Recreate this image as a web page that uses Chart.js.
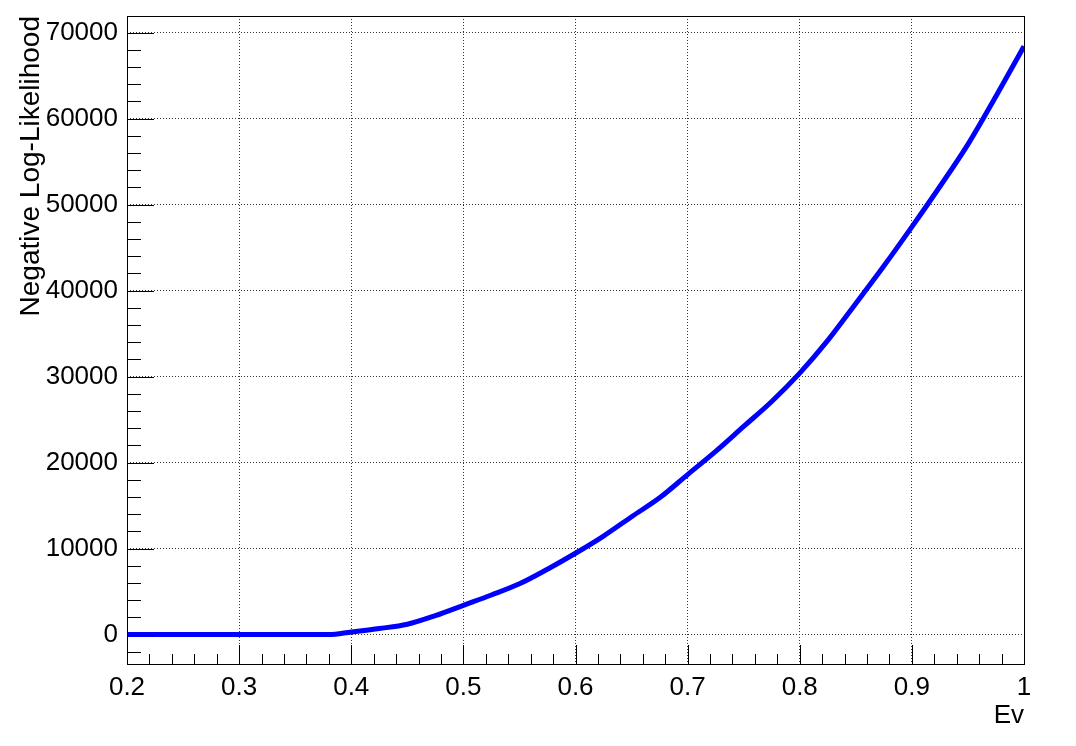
<!DOCTYPE html>
<html>
<head>
<meta charset="utf-8">
<script src="https://cdn.jsdelivr.net/npm/chart.js@4.4.1/dist/chart.umd.min.js"></script>
<style>
  body { margin: 0; background: #fff; }
</style>
</head>
<body>
<canvas id="nllChart" width="1076" height="746"></canvas>
<script>
// values
var ev = [0.2, 0.3, 0.38, 0.4, 0.425, 0.45, 0.475, 0.5, 0.525, 0.55,
          0.575, 0.6, 0.625, 0.65, 0.675, 0.7, 0.725, 0.75, 0.775, 0.8,
          0.825, 0.85, 0.875, 0.9, 0.925, 0.95, 0.975, 1.0];
var nll = [0, 0, 0, 300, 700, 1200, 2200, 3400, 4600, 5900,
           7600, 9450, 11450, 13700, 15900, 18600, 21300, 24200, 27100, 30400,
           34200, 38500, 42850, 47400, 52100, 57000, 62600, 68400];

var yTicks = [0, 10000, 20000, 30000, 40000, 50000, 60000, 70000];

var xMin = 0.2, xMax = 1.0;
var yMin = -3425, yMax = 71925;

var points = ev.map(function (x, i) { return { x: x, y: nll[i] }; });

var fontFam = "'Liberation Sans', Arial, Helvetica, sans-serif";

// ROOT style frame + ticks drawn inside the frame
var rootFrame = {
  id: "rootFrame",
  afterDraw: function (chart) {
    var ctx = chart.ctx, a = chart.chartArea;
    var xs = chart.scales.x, ys = chart.scales.y;
    ctx.save();
    ctx.strokeStyle = "#000";
    ctx.lineWidth = 1;
    ctx.beginPath();
    for (var i = 0; i <= 40; i++) {
      var v = 0.2 + i * 0.02;
      var px = Math.round(xs.getPixelForValue(v)) + 0.5;
      var len = (i % 5 === 0) ? 19 : 10;
      ctx.moveTo(px, a.bottom);
      ctx.lineTo(px, a.bottom - len);
    }
    for (var j = -1; j <= 35; j++) {
      var yv = j * 2000;
      if (yv < yMin || yv > yMax) continue;
      var py = Math.round(ys.getPixelForValue(yv)) + 0.5;
      var l2 = (j % 5 === 0) ? 27 : 14;
      ctx.moveTo(a.left, py);
      ctx.lineTo(a.left + l2, py);
    }
    ctx.stroke();
    ctx.strokeRect(Math.round(a.left) + 0.5, Math.round(a.top) + 0.5,
                   Math.round(a.right - a.left), Math.round(a.bottom - a.top));
    ctx.restore();
  }
};

new Chart("nllChart", {
  type: "line",
  data: {
    datasets: [{
      data: points,
      borderColor: "#0000ff",
      borderWidth: 5,
      pointRadius: 0,
      fill: false,
      cubicInterpolationMode: "monotone"
    }]
  },
  options: {
    responsive: false,
    animation: false,
    layout: { padding: { top: 16, right: 52, left: 0, bottom: 0 } },
    plugins: {
      legend: { display: false },
      tooltip: { enabled: false }
    },
    scales: {
      x: {
        type: "linear",
        min: xMin,
        max: xMax,
        ticks: {
          stepSize: 0.1,
          color: "#000",
          padding: 8,
          maxRotation: 0,
          font: { family: fontFam, size: 26 },
          callback: function (v) { return String(Math.round(v * 10) / 10); }
        },
        grid: { color: "#333", lineWidth: 1, drawTicks: false },
        border: { display: false, dash: [1, 2] },
        title: {
          display: true,
          text: "Ev",
          align: "end",
          color: "#000",
          padding: { top: 0, bottom: 15 },
          font: { family: fontFam, size: 26 }
        },
        afterFit: function (s) { s.height = 82; }
      },
      y: {
        type: "linear",
        min: yMin,
        max: yMax,
        ticks: {
          color: "#000",
          padding: 9,
          autoSkip: false,
          // small lineHeight keeps the top label from pushing the plot down
          font: { family: fontFam, size: 26, lineHeight: 0.5 },
          callback: function (v) { return String(v); }
        },
        afterBuildTicks: function (s) {
          s.ticks = yTicks.map(function (v) { return { value: v }; });
        },
        grid: { color: "#333", lineWidth: 1, drawTicks: false },
        border: { display: false, dash: [1, 2] },
        title: {
          display: true,
          text: "Negative Log-Likelihood",
          align: "end",
          color: "#000",
          padding: { top: 14, bottom: 0 },
          font: { family: fontFam, size: 28 }
        },
        afterFit: function (s) { s.width = 127; }
      }
    }
  },
  plugins: [rootFrame]
});
</script>
</body>
</html>
